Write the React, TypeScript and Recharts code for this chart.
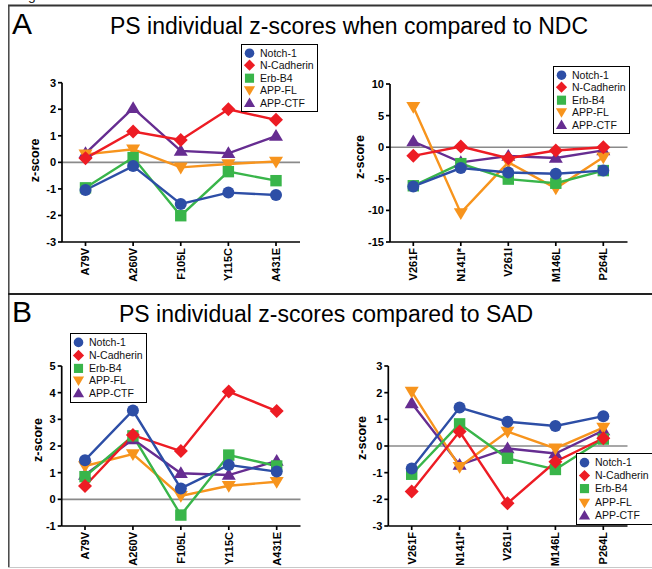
import React from 'react';
import { LineChart, Line, XAxis, YAxis, ReferenceLine, Legend } from 'recharts';

const FONT = '"Liberation Sans", Arial, Helvetica, sans-serif';

// ---------- data ----------
const seriesNames = ['Notch-1', 'N-Cadherin', 'Erb-B4', 'APP-FL', 'APP-CTF'];

const catsLeft = ['A79V', 'A260V', 'F105L', 'Y115C', 'A431E'];
const catsRight = ['V261F', 'N141I*', 'V261I', 'M146L', 'P264L'];

// Panel A (vs NDC), left
const notchA1 = [-1.04, -0.14, -1.57, -1.14, -1.23];
const ncadA1 = [0.15, 1.16, 0.84, 2.0, 1.6];
const erbA1 = [-0.96, 0.18, -2.01, -0.35, -0.69];
const appflA1 = [0.3, 0.49, -0.19, -0.06, 0.03];
const appctfA1 = [0.34, 2.04, 0.43, 0.34, 0.99];

// Panel A (vs NDC), right
const notchA2 = [-6.2, -3.3, -4.0, -4.2, -3.7];
const ncadA2 = [-1.37, 0.1, -1.74, -0.53, 0.0];
const erbA2 = [-6.1, -2.6, -5.05, -5.7, -3.7];
const appflA2 = [6.4, -10.4, -2.4, -6.5, -1.6];
const appctfA2 = [0.9, -2.4, -1.4, -1.7, -0.5];

// Panel B (vs SAD), left
const notchB1 = [1.47, 3.33, 0.41, 1.29, 1.04];
const ncadB1 = [0.5, 2.41, 1.81, 4.04, 3.31];
const erbB1 = [0.85, 2.38, -0.59, 1.66, 1.25];
const appflB1 = [1.25, 1.7, 0.13, 0.51, 0.66];
const appctfB1 = [0.91, 2.25, 0.98, 0.91, 1.44];

// Panel B (vs SAD), right
const notchB2 = [-0.84, 1.44, 0.91, 0.75, 1.12];
const ncadB2 = [-1.71, 0.54, -2.15, -0.59, 0.29];
const erbB2 = [-1.06, 0.83, -0.46, -0.88, 0.26];
const appflB2 = [2.04, -0.78, 0.54, -0.09, 0.69];
const appctfB2 = [1.6, -0.71, -0.09, -0.28, 0.58];

const ticksA1 = [-3, -2, -1, 0, 1, 2, 3];
const ticksA2 = [-15, -10, -5, 0, 5, 10];
const ticksB1 = [-1, 0, 1, 2, 3, 4, 5];
const ticksB2 = [-3, -2, -1, 0, 1, 2, 3];

// ---------- styles ----------
const SERIES_STYLE: Record<string, { color: string; shape: string }> = {
  'Notch-1': { color: '#2d4ea6', shape: 'circle' },
  'N-Cadherin': { color: '#ed1c24', shape: 'diamond' },
  'Erb-B4': { color: '#39b54a', shape: 'square' },
  'APP-FL': { color: '#f7941d', shape: 'down' },
  'APP-CTF': { color: '#662d91', shape: 'up' },
};

function buildRows(cats: string[], values: number[][]) {
  return cats.map((c, i) => {
    const row: any = { cat: c };
    seriesNames.forEach((n, j) => {
      row[n] = values[j][i];
    });
    return row;
  });
}

const rowsA1 = buildRows(catsLeft, [notchA1, ncadA1, erbA1, appflA1, appctfA1]);
const rowsA2 = buildRows(catsRight, [notchA2, ncadA2, erbA2, appflA2, appctfA2]);
const rowsB1 = buildRows(catsLeft, [notchB1, ncadB1, erbB1, appflB1, appctfB1]);
const rowsB2 = buildRows(catsRight, [notchB2, ncadB2, erbB2, appflB2, appctfB2]);

function Marker({ cx, cy, shape, color, s = 1 }: any) {
  if (cx == null || cy == null) return null;
  switch (shape) {
    case 'circle':
      return <circle cx={cx} cy={cy} r={6 * s} fill={color} />;
    case 'diamond':
      return (
        <polygon
          points={`${cx},${cy - 7 * s} ${cx + 7 * s},${cy} ${cx},${cy + 7 * s} ${cx - 7 * s},${cy}`}
          fill={color}
        />
      );
    case 'square':
      return <rect x={cx - 5.7 * s} y={cy - 5.7 * s} width={11.4 * s} height={11.4 * s} fill={color} />;
    case 'down':
      return (
        <polygon
          points={`${cx - 7 * s},${cy - 4.8 * s} ${cx + 7 * s},${cy - 4.8 * s} ${cx},${cy + 7 * s}`}
          fill={color}
        />
      );
    case 'up':
      return (
        <polygon
          points={`${cx},${cy - 7 * s} ${cx + 7 * s},${cy + 4.8 * s} ${cx - 7 * s},${cy + 4.8 * s}`}
          fill={color}
        />
      );
    default:
      return null;
  }
}

const XTick = (props: any) => {
  const { x, y, payload } = props;
  return (
    <text
      x={x}
      y={y}
      transform={`rotate(-90 ${x} ${y})`}
      textAnchor="end"
      dy="0.36em"
      fontSize={11}
      fontWeight="bold"
      fontFamily={FONT}
      fill="#000"
    >
      {payload.value}
    </text>
  );
};

const LegendBox = (props: any) => {
  const { fontSize = 10.5, rowH = 12.4 } = props;
  return (
    <div
      style={{
        border: '1.5px solid #000',
        background: '#fff',
        padding: '2px 3px 2px 1px',
        fontFamily: FONT,
        fontSize,
        color: '#111',
        lineHeight: `${rowH}px`,
      }}
    >
      {seriesNames.map((name) => {
        const st = SERIES_STYLE[name];
        return (
          <div key={name} style={{ display: 'flex', alignItems: 'center', height: rowH, whiteSpace: 'nowrap' }}>
            <svg width={13} height={rowH} style={{ marginRight: 4, flex: 'none' }}>
              <Marker cx={6.5} cy={rowH / 2} shape={st.shape} color={st.color} s={0.8} />
            </svg>
            <span>{name}</span>
          </div>
        );
      })}
    </div>
  );
};

function Panel({ rows, ticks, domain, lay }: any) {
  const drawOrder = [...seriesNames].reverse();
  return (
    <div style={{ position: 'absolute', left: lay.left, top: lay.top }}>
      <LineChart
        width={lay.width}
        height={lay.height}
        data={rows}
        margin={{ top: lay.mt, right: lay.mr, left: lay.ml, bottom: 0 }}
      >
        <XAxis
          dataKey="cat"
          type="category"
          height={lay.xh}
          interval={0}
          padding={{ left: lay.padL, right: lay.padR }}
          tick={<XTick />}
          tickSize={4}
          tickMargin={2}
          axisLine={{ stroke: '#000', strokeWidth: 1.7 }}
          tickLine={{ stroke: '#000', strokeWidth: 1.7 }}
        />
        <YAxis
          type="number"
          width={40}
          domain={domain}
          ticks={ticks}
          interval={0}
          allowDataOverflow
          tickSize={4}
          tickMargin={2}
          axisLine={{ stroke: '#000', strokeWidth: 1.7 }}
          tickLine={{ stroke: '#000', strokeWidth: 1.7 }}
          tick={{ fontSize: 11, fontWeight: 'bold', fill: '#000', fontFamily: FONT }}
          label={{
            content: (p: any) => {
              const vb = p.viewBox || {};
              const x = vb.x + lay.labelDx;
              const y = vb.y + vb.height / 2 + lay.labelDy;
              return (
                <text
                  x={x}
                  y={y}
                  transform={`rotate(-90 ${x} ${y})`}
                  textAnchor="middle"
                  dy="0.36em"
                  fontSize={12.5}
                  fontWeight="bold"
                  fontFamily={FONT}
                  fill="#000"
                >
                  z-score
                </text>
              );
            },
          }}
        />
        <ReferenceLine y={0} stroke="#8a8a8a" strokeWidth={1.6} ifOverflow="visible" />
        {drawOrder.map((n) => {
          const st = SERIES_STYLE[n];
          return (
            <Line
              key={n}
              type="linear"
              dataKey={n}
              name={n}
              stroke={st.color}
              strokeWidth={2.4}
              isAnimationActive={false}
              activeDot={false}
              dot={(p: any) => (
                <g key={`${n}-${p.index}`}>
                  <Marker cx={p.cx} cy={p.cy} shape={st.shape} color={st.color} />
                </g>
              )}
            />
          );
        })}
        <Legend
          layout="vertical"
          align="center"
          verticalAlign="middle"
          content={<LegendBox fontSize={lay.lfs} rowH={lay.lrh} />}
          wrapperStyle={{ left: lay.lx, top: lay.ly, width: 'auto', height: 'auto' }}
        />
      </LineChart>
    </div>
  );
}

const layA1 = { left: 0, top: 40, width: 330, height: 252, mt: 42.7, mr: 30, ml: 22, xh: 50, padL: 23.5, padR: 24, lx: 241, ly: 4, lfs: 10.5, lrh: 12.4, labelDx: 13, labelDy: -2 };
const layA2 = { left: 330, top: 40, width: 322, height: 252, mt: 44, mr: 24.5, ml: 20, xh: 50, padL: 23.3, padR: 24.2, lx: 223, ly: 26, lfs: 10.5, lrh: 12.4, labelDx: 9, labelDy: -6 };
const layB1 = { left: 0, top: 320, width: 330, height: 246, mt: 46, mr: 29.5, ml: 21.7, xh: 40, padL: 23.3, padR: 23.8, lx: 70, ly: 13, lfs: 10.5, lrh: 12.8, labelDx: 16, labelDy: -6 };
const layB2 = { left: 330, top: 320, width: 322, height: 246, mt: 46, mr: 24.5, ml: 18.3, xh: 40, padL: 23.4, padR: 24.2, lx: 246, ly: 133, lfs: 10.5, lrh: 13.2, labelDx: 13, labelDy: -8 };

export default function App() {
  return (
    <div
      style={{
        position: 'absolute',
        left: 0,
        top: 0,
        width: 652,
        height: 569,
        overflow: 'hidden',
        background: '#fff',
        fontFamily: FONT,
      }}
    >
      <svg width={652} height={569} style={{ position: 'absolute', left: 0, top: 0 }}>
        <text x={28} y={0} fontSize={14} fontFamily={FONT} fill="#222">g</text>
        <line x1={8} y1={5.5} x2={652} y2={5.5} stroke="#333" strokeWidth={2} />
        <line x1={8.8} y1={5} x2={8.8} y2={567} stroke="#444" strokeWidth={1.5} />
        <line x1={8} y1={294} x2={652} y2={294} stroke="#222" strokeWidth={2} />
        <line x1={8} y1={567.5} x2={652} y2={567.5} stroke="#c8c8c8" strokeWidth={1} />
        <text x={12} y={34} fontSize={30} fontFamily={FONT} fill="#000">A</text>
        <text x={110} y={34} fontSize={23} fontFamily={FONT} fill="#000">
          PS individual z-scores when compared to NDC
        </text>
        <text x={12} y={322} fontSize={30} fontFamily={FONT} fill="#000">B</text>
        <text x={119} y={322} fontSize={23} fontFamily={FONT} fill="#000">
          PS individual z-scores compared to SAD
        </text>
      </svg>
      <Panel rows={rowsA1} ticks={ticksA1} domain={[-3, 3]} lay={layA1} />
      <Panel rows={rowsA2} ticks={ticksA2} domain={[-15, 10]} lay={layA2} />
      <Panel rows={rowsB1} ticks={ticksB1} domain={[-1, 5]} lay={layB1} />
      <Panel rows={rowsB2} ticks={ticksB2} domain={[-3, 3]} lay={layB2} />
    </div>
  );
}
